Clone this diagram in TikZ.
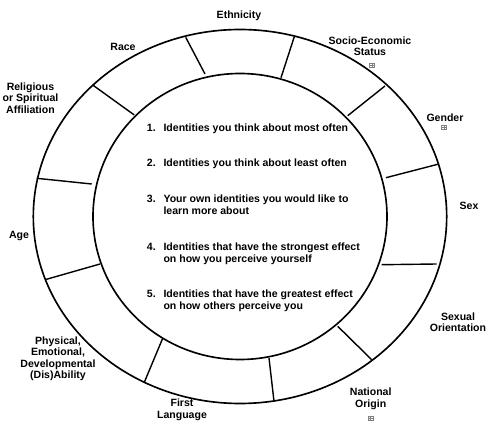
\documentclass[tikz,border=0pt]{standalone}
\usepackage{fontspec}
\setmainfont{Liberation Sans}
\usetikzlibrary{positioning}

\begin{document}
\begin{tikzpicture}[x=0.03cm,y=-0.03cm,every node/.style={font=\bfseries\fontsize{9}{9.8}\selectfont},ring/.style={line width=1.4pt},divider/.style={line width=1.2pt},cat/.style={align=center,inner sep=0pt},item/.style={anchor=base west,inner sep=0pt},plusbox/.pic={\draw[gray,line width=.35pt] (-2.5,-2) rectangle (2.5,2) (0,-2)--(0,2) (-2.5,0)--(2.5,0);}]
\useasboundingbox (0,0) rectangle (495,429);
\coordinate (C) at (240,216.5);
\draw[ring] (C) ellipse [x radius=206.7,y radius=187];\draw[ring] (C) ellipse [x radius=147,y radius=143];
% the eleven spokes of the ring
\foreach \p/\q in {{185.7,37.3}/{205,74},{92.7,85}/{134.3,115},{36.7,178.3}/{91.7,184},{294.3,36.7}/{281,77.7},{385,86}/{347.7,115.7},{437.7,164.3}/{386,177.7},{45,279.7}/{100,264},{144.3,382.3}/{162.7,338.3},{436.7,264}/{381.7,264.7},{371.7,359.7}/{337.7,326.3},{274,401.3}/{269,358}}
  \draw[divider] (\p)--(\q);
\node[cat] (eth) at (239,16) {Ethnicity};\node[cat] (race) at (123,47) {Race};\node[cat] (relig) at (30.5,98) {Religious\\or Spiritual\\Affiliation};
\node[cat] (ses) at (370,46) {Socio-Economic\\Status};\pic at (372,65) {plusbox};
\node[cat] (gender) at (445,117.3) {Gender};\pic at (444,127.5) {plusbox};
\node[cat] (sex) at (469,206) {Sex};\node[cat] (orient) at (458,322) {Sexual\\Orientation};
\node[cat] (nation) at (370.7,399) {National\\Origin};\pic at (370.7,418) {plusbox};
\node[cat] (lang) at (182,410) {First\\Language};\node[cat] (ability) at (58,359) {Physical,\\Emotional,\\Developmental\\(Dis)Ability};\node[cat] (age) at (19,236) {Age};
% questions inside the ring
\foreach \n/\y/\a/\b in {1/132/{Identities you think about most often}/{},2/167/{Identities you think about least often}/{},3/203/{Your own identities you would like to}/{learn more about},4/250.5/{Identities that have the strongest effect}/{on how you perceive yourself},5/298/{Identities that have the greatest effect}/{on how others perceive you}}
  {\node[item] (n\n) at (146.7,\y) {\n.};\node[item] (q\n) at (163.3,\y) {\a};\node[item] (r\n) at (163.3,\y+11.7) {\b};}
\end{tikzpicture}
\end{document}
